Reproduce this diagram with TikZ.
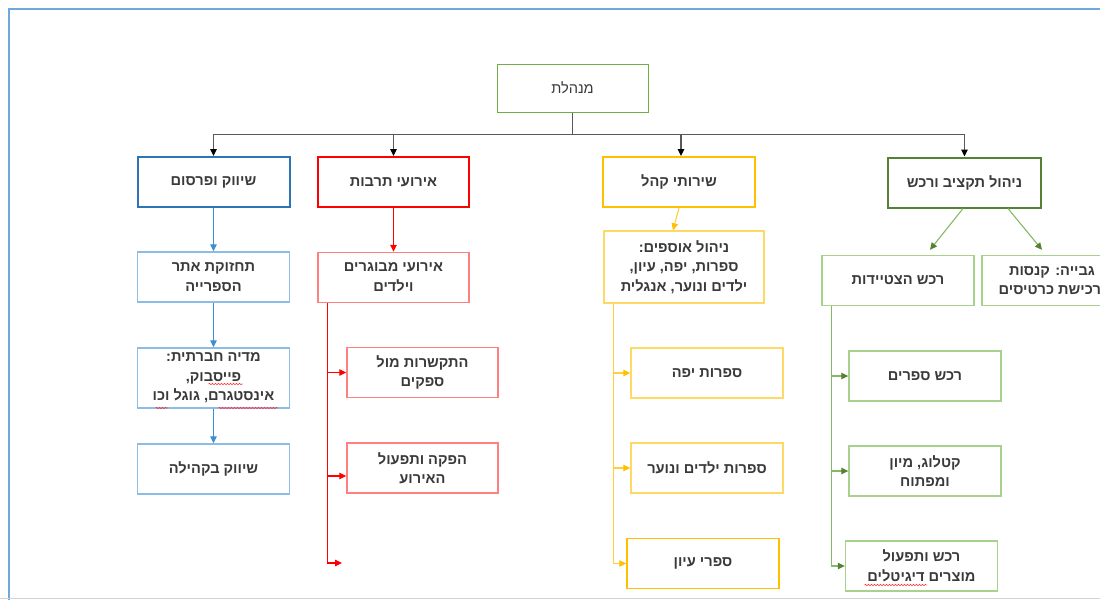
\documentclass[tikz,border=0pt]{standalone}
\usepackage{fontspec}
\newfontfamily\heb[Script=Hebrew]{Liberation Sans}
\TeXXeTstate=1
\usetikzlibrary{arrows.meta,calc,decorations.pathmorphing}
\definecolor{txt}{HTML}{3A3A3A}
\definecolor{frameblue}{HTML}{6FA8DC}
\definecolor{bdark}{HTML}{2E75B6}
\definecolor{blight}{HTML}{8DBCE8}
\definecolor{barrc}{HTML}{3C8DD6}
\definecolor{rdark}{HTML}{FF0000}
\definecolor{rlight}{HTML}{FF8080}
\definecolor{ydark}{HTML}{FFC000}
\definecolor{ylight}{HTML}{FFD966}
\definecolor{gdark}{HTML}{548235}
\definecolor{glight}{HTML}{A9D18E}
\definecolor{garrc}{HTML}{70AD47}
\definecolor{topc}{HTML}{70AD47}
\definecolor{busc}{HTML}{595959}
\newcommand{\heR}[1]{\beginR #1\endR}
\tikzset{
  box/.style={draw, minimum width=152pt, minimum height=50pt, inner sep=1pt, align=center,
    font=\heb\bfseries\fontsize{14.6}{19.5}\selectfont, text=txt},
  topbox/.style={draw=topc, line width=1pt, minimum width=151pt, minimum height=48pt, align=center,
    font=\heb\fontsize{14.6}{19.5}\selectfont, text=txt},
  bboxa/.style={box, draw=bdark, line width=2pt},
  bboxb/.style={box, draw=blight, line width=1.4pt},
  rboxa/.style={box, draw=rdark, line width=2pt, minimum width=151pt},
  rboxb/.style={box, draw=rlight, line width=1.4pt, minimum width=151pt},
  yboxa/.style={box, draw=ydark, line width=2pt},
  yboxb/.style={box, draw=ylight, line width=1.4pt},
  gboxa/.style={box, draw=gdark, line width=2pt, minimum width=153pt},
  gboxb/.style={box, draw=glight, line width=1.4pt},
  tip/.style={-{Triangle[length=7pt,width=6.5pt]}},
  busline/.style={draw=busc, line width=1.2pt},
  busarr/.style={busline, -{Triangle[length=7pt,width=6.5pt,color=black]}},
  barr/.style={draw=barrc, line width=1.1pt, tip},
  rline/.style={draw=rdark, line width=1.1pt},
  rarr/.style={rline, tip},
  yline/.style={draw=ylight!60!ydark, line width=1.1pt},
  yarr/.style={yline, -{Triangle[length=7pt,width=6.5pt,color=ydark]}},
  gline/.style={draw=garrc!85!white, line width=1.1pt},
  garr/.style={gline, -{Triangle[length=7pt,width=6.5pt,color=gdark]}},
  squig/.style={draw=red!80, line width=0.6pt, decorate, decoration={snake, amplitude=0.7pt, segment length=3pt}},
}
\begin{document}
\begin{tikzpicture}[x=1pt,y=-1pt]
\useasboundingbox (0,0) rectangle (1100,600);
\clip (0,0) rectangle (1100,600);
\fill[white] (0,0) rectangle (1100,600);
\draw[frameblue, line width=2.5pt] (9,600) -- (9,9) -- (1100,9);
\draw[gray!35, line width=1.5pt] (0,598.5) -- (1100,598.5);

% top
\node[topbox] (top) at (572.5,88) {\heR{מנהלת}};

% column 1 (blue)
\node[bboxa] (b1) at (213.5,182) {\heR{שיווק ופרסום}};
\node[bboxb] (b2) at (213.5,277) {\heR{תחזוקת אתר}\\\heR{הספרייה}};
\node[bboxb, minimum height=60pt] (b3) at (213.5,378) {\heR{מדיה חברתית:}\\\heR{פייסבוק,}\\\heR{אינסטגרם, גוגל וכו}};
\node[bboxb] (b4) at (213.5,469) {\heR{שיווק בקהילה}};

% column 2 (red)
\node[rboxa] (r1) at (393.5,182) {\heR{אירועי תרבות}};
\node[rboxb] (r2) at (393.5,277.5) {\heR{אירועי מבוגרים}\\\heR{וילדים}};
\node[rboxb] (r3) at (422.5,372.5) {\heR{התקשרות מול}\\\heR{ספקים}};
\node[rboxb] (r4) at (422.5,468) {\heR{הפקה ותפעול}\\\heR{האירוע}};

% column 3 (yellow)
\node[yboxa] (y1) at (679,182) {\heR{שירותי קהל}};
\node[yboxb, minimum width=160pt, minimum height=72pt] (y2) at (684,267) {\heR{ניהול אוספים:}\\\heR{ספרות, יפה, עיון,}\\\heR{ילדים ונוער, אנגלית}};
\node[yboxb] (y3) at (707,373) {\heR{ספרות יפה}};
\node[yboxb] (y4) at (707,468) {\heR{ספרות ילדים ונוער}};
\node[yboxa, line width=1.4pt] (y5) at (703,563.5) {\heR{ספרי עיון}};

% column 4 (green)
\node[gboxa] (g1) at (964.5,182.5) {\heR{ניהול תקציב ורכש}};
\node[gboxb] (g2) at (898,280.5) {\heR{רכש הצטיידות}};
\node[gboxb, minimum width=140pt] (g3) at (1052,280.5) {\heR{גבייה: קנסות}\\\heR{ורכישת כרטיסים}};
\node[gboxb] (g4) at (925,376) {\heR{רכש ספרים}};
\node[gboxb] (g5) at (925,471) {\heR{קטלוג, מיון}\\\heR{ומפתוח}};
\node[gboxb] (g6) at (921.5,566) {\heR{רכש ותפעול}\\\heR{מוצרים דיגיטלים}};

% spelling marks
\draw[squig] ($(b3)+(-5,6)$) -- ($(b3)+(29,6)$);
\draw[squig] ($(b3)+(5,30)$) -- ($(b3)+(64,30)$);
\draw[squig] ($(b3)+(-58,30)$) -- ($(b3)+(-46,30)$);
\draw[squig] ($(g6)+(-57,19)$) -- ($(g6)+(5,19)$);

% bus from top
\draw[busline] (top.south) -- ++(0,22) coordinate (bus);
\draw[busarr] (bus) -| (b1.north);
\draw[busarr] (bus) -| (r1.north);
\draw[busarr] (bus) -| ([xshift=2pt]y1.north);
\draw[busarr] (bus) -| (g1.north);

% blue chain
\draw[barr] (b1) -- (b2);
\draw[barr] (b2) -- (b3);
\draw[barr] (b3) -- (b4);

% red
\draw[rarr] (r1) -- (r2);
\coordinate (rt) at ($(r2.south west)+(10.5,0)$);
\coordinate (rend) at (342,563);
\draw[rarr] (rt) |- (r3.west);
\draw[rarr] (rt) |- ([yshift=-8pt]r4.west);
\draw[rarr] (rt) |- (rend);

% yellow
\draw[yarr] (y1.south) -- ([xshift=-11pt]y2.north);
\coordinate (yt) at ($(y2.south west)+(10,0)$);
\draw[yarr] (yt) |- (y3.west);
\draw[yarr] (yt) |- (y4.west);
\draw[yarr] (yt) |- (y5.west);

% green
\draw[garr] ([xshift=-1.5pt]g1.south) -- ($(g2.north)+(32,-5)$);
\draw[garr] ([xshift=43.5pt]g1.south) -- ($(g3.north)+(-10,-5)$);
\coordinate (gt) at ($(g2.south west)+(10,0)$);
\draw[garr] (gt) |- (g4.west);
\draw[garr] (gt) |- (g5.west);
\draw[garr] (gt) |- (g6.west);
\end{tikzpicture}
\end{document}
